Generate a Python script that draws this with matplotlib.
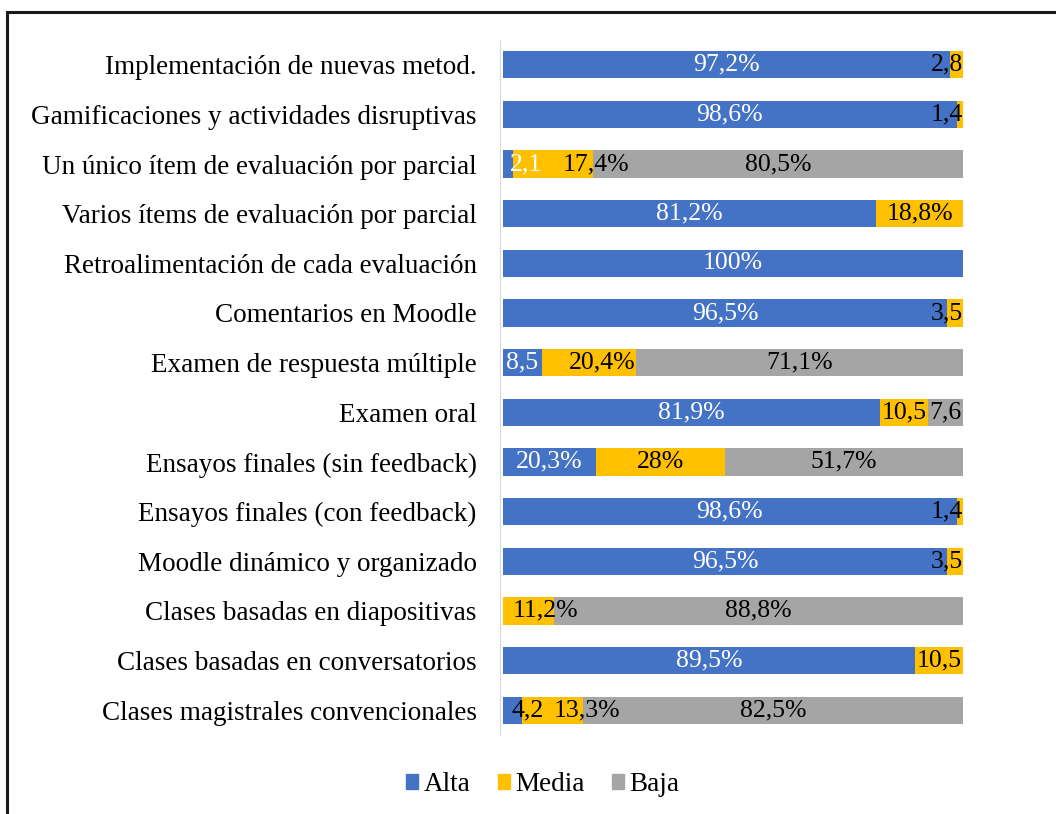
import matplotlib
matplotlib.use("Agg")
import matplotlib.pyplot as plt
from matplotlib.patches import Patch, Rectangle
import numpy as np

plt.rcParams['font.family'] = ['Liberation Serif', 'DejaVu Serif']

# Datos (porcentajes), de arriba hacia abajo
categorias = [
    "Implementación de nuevas metod.",
    "Gamificaciones y actividades disruptivas",
    "Un único ítem de evaluación por parcial",
    "Varios ítems de evaluación por parcial",
    "Retroalimentación de cada evaluación",
    "Comentarios en Moodle",
    "Examen de respuesta múltiple",
    "Examen oral",
    "Ensayos finales (sin feedback)",
    "Ensayos finales (con feedback)",
    "Moodle dinámico y organizado",
    "Clases basadas en diapositivas",
    "Clases basadas en conversatorios",
    "Clases magistrales convencionales",
]
alta = [97.2, 98.6, 2.1, 81.2, 100, 96.5, 8.5, 81.9, 20.3, 98.6, 96.5, 0, 89.5, 4.2]
media = [2.8, 1.4, 17.4, 18.8, 0, 3.5, 20.4, 10.5, 28, 1.4, 3.5, 11.2, 10.5, 13.3]
baja = [0, 0, 80.5, 0, 0, 0, 71.1, 7.6, 51.7, 0, 0, 88.8, 0, 82.5]

etiq_alta = ["97,2%", "98,6%", "2,1", "81,2%", "100%", "96,5%", "8,5", "81,9%",
             "20,3%", "98,6%", "96,5%", "", "89,5%", "4,2"]
etiq_media = ["2,8", "1,4", "17,4%", "18,8%", "", "3,5", "20,4%", "10,5",
              "28%", "1,4", "3,5", "11,2%", "10,5", "13,3%"]
etiq_baja = ["", "", "80,5%", "", "", "", "71,1%", "7,6", "51,7%", "", "",
             "88,8%", "", "82,5%"]

series = ["Alta", "Media", "Baja"]
colores = ["#4472C4", "#FFC000", "#A5A5A5"]

# pequeños desplazamientos de etiquetas (fila, serie) -> % en x
ajustes = {(2, 0): 3.85, (2, 1): 9.5, (6, 1): 2.9, (13, 0): 3.3,
           (13, 1): 7.5, (11, 1): 3.6}
negro_sobre_azul = {(13, 0)}

fig = plt.figure(figsize=(10.56, 8.14), dpi=100)
ax = fig.add_axes([0.4763, 0.097, 0.4356, 0.854])

y = np.arange(len(categorias))
valores = [alta, media, baja]
etiquetas = [etiq_alta, etiq_media, etiq_baja]
izq = np.zeros(len(categorias))
for s, (vals, col) in enumerate(zip(valores, colores)):
    ax.barh(y, vals, left=izq, height=0.55, color=col, label=series[s])
    izq = izq + np.array(vals)

ax.set_xlim(0, 100)
ax.set_ylim(len(categorias) - 0.5, -0.5)
ax.set_yticks(y)
ax.set_yticklabels(categorias)
ax.tick_params(axis='y', length=0, pad=17, labelsize=19.5)
ax.set_xticks([])
for lado in ["top", "right", "bottom"]:
    ax.spines[lado].set_visible(False)
ax.spines["left"].set_color("#D9D9D9")
ax.spines["left"].set_position(("data", -0.6))

# etiquetas de datos
fig.canvas.draw()
renderer = fig.canvas.get_renderer()
inv = ax.transData.inverted()
izq = np.zeros(len(categorias))
for s, vals in enumerate(valores):
    for i, v in enumerate(vals):
        txt = etiquetas[s][i]
        if txt:
            cx = izq[i] + v / 2 + ajustes.get((i, s), 0)
            color = "white" if s == 0 and (i, s) not in negro_sobre_azul else "black"
            t = ax.text(cx, i, txt, ha="center", va="center", fontsize=18.5,
                        color=color)
            bb = t.get_window_extent(renderer)
            x0 = inv.transform((bb.x0, 0))[0]
            x1 = inv.transform((bb.x1, 0))[0]
            if x1 > 100:
                t.set_x(cx - (x1 - 100))
            elif x0 < 0:
                t.set_x(cx - x0)
    izq = izq + np.array(vals)

# leyenda
handles = [Patch(color=c) for c in colores]
fig.legend(handles, series, loc="center", bbox_to_anchor=(0.514, 0.036),
           ncol=3, frameon=False, fontsize=19.5, handlelength=0.45,
           handleheight=0.45, handletextpad=0.2, columnspacing=1.0)

# marco del gráfico (sólo se ven los bordes superior e izquierdo)
fig.patches.append(Rectangle((7 / 1056, -0.05), 1.2, 1 - 12 / 814 + 0.05,
                             transform=fig.transFigure, fill=False,
                             edgecolor="#1a1a1a", linewidth=2.2))

fig.savefig("out.png", dpi=100)
